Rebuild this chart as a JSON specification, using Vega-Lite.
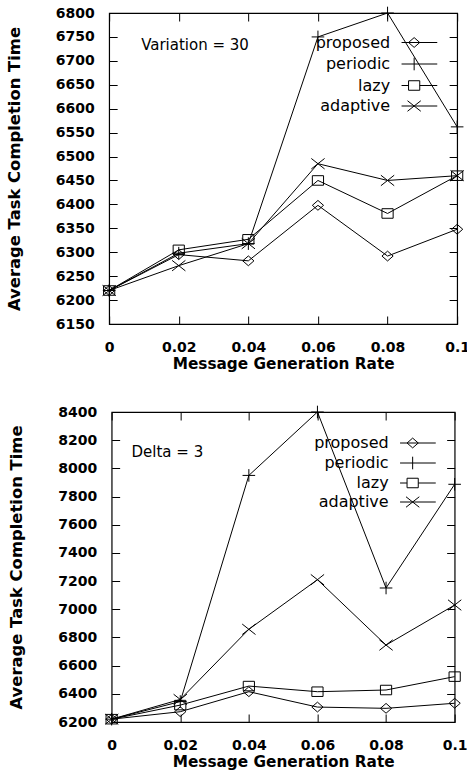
{
  "$schema": "https://vega.github.io/schema/vega-lite/v6.json",
  "padding": {"left": 5, "top": 4, "right": 5, "bottom": 0},
  "background": "white",
  "datasets": {
    "variation": [
      {"rate": 0, "time": 6220, "method": "proposed"},
      {"rate": 0.02, "time": 6295, "method": "proposed"},
      {"rate": 0.04, "time": 6282, "method": "proposed"},
      {"rate": 0.06, "time": 6398, "method": "proposed"},
      {"rate": 0.08, "time": 6292, "method": "proposed"},
      {"rate": 0.1, "time": 6348, "method": "proposed"},
      {"rate": 0, "time": 6220, "method": "periodic"},
      {"rate": 0.02, "time": 6298, "method": "periodic"},
      {"rate": 0.04, "time": 6318, "method": "periodic"},
      {"rate": 0.06, "time": 6750, "method": "periodic"},
      {"rate": 0.08, "time": 6800, "method": "periodic"},
      {"rate": 0.1, "time": 6562, "method": "periodic"},
      {"rate": 0, "time": 6220, "method": "lazy"},
      {"rate": 0.02, "time": 6305, "method": "lazy"},
      {"rate": 0.04, "time": 6327, "method": "lazy"},
      {"rate": 0.06, "time": 6450, "method": "lazy"},
      {"rate": 0.08, "time": 6381, "method": "lazy"},
      {"rate": 0.1, "time": 6460, "method": "lazy"},
      {"rate": 0, "time": 6220, "method": "adaptive"},
      {"rate": 0.02, "time": 6272, "method": "adaptive"},
      {"rate": 0.04, "time": 6318, "method": "adaptive"},
      {"rate": 0.06, "time": 6485, "method": "adaptive"},
      {"rate": 0.08, "time": 6450, "method": "adaptive"},
      {"rate": 0.1, "time": 6460, "method": "adaptive"}
    ],
    "delta": [
      {"rate": 0, "time": 6220, "method": "proposed"},
      {"rate": 0.02, "time": 6273, "method": "proposed"},
      {"rate": 0.04, "time": 6415, "method": "proposed"},
      {"rate": 0.06, "time": 6306, "method": "proposed"},
      {"rate": 0.08, "time": 6297, "method": "proposed"},
      {"rate": 0.1, "time": 6333, "method": "proposed"},
      {"rate": 0, "time": 6220, "method": "periodic"},
      {"rate": 0.02, "time": 6345, "method": "periodic"},
      {"rate": 0.04, "time": 7950, "method": "periodic"},
      {"rate": 0.06, "time": 8400, "method": "periodic"},
      {"rate": 0.08, "time": 7151, "method": "periodic"},
      {"rate": 0.1, "time": 7887, "method": "periodic"},
      {"rate": 0, "time": 6220, "method": "lazy"},
      {"rate": 0.02, "time": 6320, "method": "lazy"},
      {"rate": 0.04, "time": 6455, "method": "lazy"},
      {"rate": 0.06, "time": 6415, "method": "lazy"},
      {"rate": 0.08, "time": 6427, "method": "lazy"},
      {"rate": 0.1, "time": 6522, "method": "lazy"},
      {"rate": 0, "time": 6220, "method": "adaptive"},
      {"rate": 0.02, "time": 6360, "method": "adaptive"},
      {"rate": 0.04, "time": 6858, "method": "adaptive"},
      {"rate": 0.06, "time": 7210, "method": "adaptive"},
      {"rate": 0.08, "time": 6746, "method": "adaptive"},
      {"rate": 0.1, "time": 7030, "method": "adaptive"}
    ]
  },
  "config": {
    "font": "DejaVu Sans",
    "view": {"stroke": "black", "strokeWidth": 1.2},
    "axis": {
      "domain": false, "grid": false,
      "tickColor": "black", "tickSize": -8, "tickWidth": 1,
      "labelColor": "black", "labelFont": "DejaVu Sans", "labelFontWeight": "bold", "labelFontSize": 14,
      "labelFlush": false, "labelOverlap": false,
      "titleColor": "black", "titleFont": "DejaVu Sans", "titleFontWeight": "bold"
    },
    "axisX": {"labelPadding": 24, "titleFontSize": 15.3, "titlePadding": 2},
    "axisY": {"labelPadding": 23, "titleFontSize": 16.4, "titlePadding": 33},
    "legend": {
      "orient": "none", "title": null, "padding": 0,
      "labelFont": "DejaVu Sans", "labelFontSize": 16, "labelColor": "black",
      "labelAlign": "right", "labelOffset": -32,
      "symbolSize": 196, "symbolStrokeColor": "black", "symbolStrokeWidth": 1, "symbolFillColor": "transparent", "symbolOpacity": 1
    },
    "concat": {"spacing": 31}
  },
  "center": true,
  "resolve": {"scale": {"shape": "independent"}, "legend": {"shape": "independent"}},
  "vconcat": [
    {
      "width": 348, "height": 311,
      "data": {"name": "variation"},
      "layer": [
        {
          "mark": {"type": "line", "color": "black", "strokeWidth": 1},
          "encoding": {
            "x": {"field": "rate", "type": "quantitative", "scale": {"domain": [0, 0.1], "nice": false},
                  "axis": {"orient": "top", "labels": false, "title": null, "values": [0, 0.02, 0.04, 0.06, 0.08, 0.1]}},
            "y": {"field": "time", "type": "quantitative", "scale": {"domain": [6150, 6800], "nice": false, "zero": false},
                  "axis": {"orient": "right", "labels": false, "title": null, "values": [6150, 6200, 6250, 6300, 6350, 6400, 6450, 6500, 6550, 6600, 6650, 6700, 6750, 6800]}},
            "detail": {"field": "method"}
          }
        },
        {
          "mark": {"type": "point", "filled": false, "color": "black", "strokeWidth": 1, "size": 196, "opacity": 1},
          "encoding": {
            "x": {"field": "rate", "type": "quantitative", "scale": {"domain": [0, 0.1], "nice": false},
                  "axis": {"title": "Message Generation Rate", "format": "~g", "values": [0, 0.02, 0.04, 0.06, 0.08, 0.1]}},
            "y": {"field": "time", "type": "quantitative", "scale": {"domain": [6150, 6800], "nice": false, "zero": false},
                  "axis": {"title": "Average Task Completion Time", "format": "d", "values": [6150, 6200, 6250, 6300, 6350, 6400, 6450, 6500, 6550, 6600, 6650, 6700, 6750, 6800]}},
            "shape": {
              "field": "method", "type": "nominal", "legend": null,
              "scale": {
                "domain": ["proposed", "periodic", "lazy", "adaptive"],
                "range": ["M0,-0.7L0.8,0L0,0.7L-0.8,0Z", "M-0.9,0H0.9M0,-0.9V0.9", "M-0.8,-0.68H0.8V0.68H-0.8Z", "M-0.95,-0.75L0.95,0.75M-0.95,0.75L0.95,-0.75"]
              }
            }
          }
        },
        {
          "mark": {"type": "point", "filled": false, "color": "black", "strokeWidth": 1, "size": 196, "opacity": 0},
          "encoding": {
            "x": {"field": "rate", "type": "quantitative", "axis": null},
            "y": {"field": "time", "type": "quantitative", "axis": null},
            "shape": {
              "field": "method", "type": "nominal",
              "scale": {
                "domain": ["proposed", "periodic", "lazy", "adaptive"],
                "range": ["M-1.8,0H3.3M0,-0.7L0.8,0L0,0.7L-0.8,0Z", "M-1.8,0H3.3M0,-0.9V0.9", "M-1.8,0H-0.8M0.8,0H3.3M-0.8,-0.68H0.8V0.68H-0.8Z", "M-1.8,0H3.3M-0.95,-0.75L0.95,0.75M-0.95,0.75L0.95,-0.75"]
              },
              "legend": {"legendX": 297, "legendY": 21.5, "rowPadding": 4.5}
            }
          }
        },
        {
          "data": {"values": [{"label": "Variation = 30"}]},
          "mark": {"type": "text", "align": "left", "baseline": "middle", "fontSize": 15, "font": "DejaVu Sans", "color": "black"},
          "encoding": {
            "x": {"datum": 0.0092, "type": "quantitative", "axis": null},
            "y": {"datum": 6734, "type": "quantitative", "axis": null},
            "text": {"field": "label"}
          }
        }
      ],
      "resolve": {"axis": {"x": "independent", "y": "independent"}, "scale": {"shape": "independent"}, "legend": {"shape": "independent"}}
    },
    {
      "width": 343, "height": 310,
      "data": {"name": "delta"},
      "layer": [
        {
          "mark": {"type": "line", "color": "black", "strokeWidth": 1},
          "encoding": {
            "x": {"field": "rate", "type": "quantitative", "scale": {"domain": [0, 0.1], "nice": false},
                  "axis": {"orient": "top", "labels": false, "title": null, "values": [0, 0.02, 0.04, 0.06, 0.08, 0.1]}},
            "y": {"field": "time", "type": "quantitative", "scale": {"domain": [6200, 8400], "nice": false, "zero": false},
                  "axis": {"orient": "right", "labels": false, "title": null, "values": [6200, 6400, 6600, 6800, 7000, 7200, 7400, 7600, 7800, 8000, 8200, 8400]}},
            "detail": {"field": "method"}
          }
        },
        {
          "mark": {"type": "point", "filled": false, "color": "black", "strokeWidth": 1, "size": 196, "opacity": 1},
          "encoding": {
            "x": {"field": "rate", "type": "quantitative", "scale": {"domain": [0, 0.1], "nice": false},
                  "axis": {"title": "Message Generation Rate", "format": "~g", "values": [0, 0.02, 0.04, 0.06, 0.08, 0.1]}},
            "y": {"field": "time", "type": "quantitative", "scale": {"domain": [6200, 8400], "nice": false, "zero": false},
                  "axis": {"title": "Average Task Completion Time", "format": "d", "values": [6200, 6400, 6600, 6800, 7000, 7200, 7400, 7600, 7800, 8000, 8200, 8400]}},
            "shape": {
              "field": "method", "type": "nominal", "legend": null,
              "scale": {
                "domain": ["proposed", "periodic", "lazy", "adaptive"],
                "range": ["M0,-0.7L0.8,0L0,0.7L-0.8,0Z", "M-0.9,0H0.9M0,-0.9V0.9", "M-0.8,-0.68H0.8V0.68H-0.8Z", "M-0.95,-0.75L0.95,0.75M-0.95,0.75L0.95,-0.75"]
              }
            }
          }
        },
        {
          "mark": {"type": "point", "filled": false, "color": "black", "strokeWidth": 1, "size": 196, "opacity": 0},
          "encoding": {
            "x": {"field": "rate", "type": "quantitative", "axis": null},
            "y": {"field": "time", "type": "quantitative", "axis": null},
            "shape": {
              "field": "method", "type": "nominal",
              "scale": {
                "domain": ["proposed", "periodic", "lazy", "adaptive"],
                "range": ["M-1.8,0H3.3M0,-0.7L0.8,0L0,0.7L-0.8,0Z", "M-1.8,0H3.3M0,-0.9V0.9", "M-1.8,0H-0.8M0.8,0H3.3M-0.8,-0.68H0.8V0.68H-0.8Z", "M-1.8,0H3.3M-0.95,-0.75L0.95,0.75M-0.95,0.75L0.95,-0.75"]
              },
              "legend": {"legendX": 293, "legendY": 23, "rowPadding": 3}
            }
          }
        },
        {
          "data": {"values": [{"label": "Delta = 3"}]},
          "mark": {"type": "text", "align": "left", "baseline": "middle", "fontSize": 15, "font": "DejaVu Sans", "color": "black"},
          "encoding": {
            "x": {"datum": 0.0058, "type": "quantitative", "axis": null},
            "y": {"datum": 8116, "type": "quantitative", "axis": null},
            "text": {"field": "label"}
          }
        }
      ],
      "resolve": {"axis": {"x": "independent", "y": "independent"}, "scale": {"shape": "independent"}, "legend": {"shape": "independent"}}
    }
  ]
}
